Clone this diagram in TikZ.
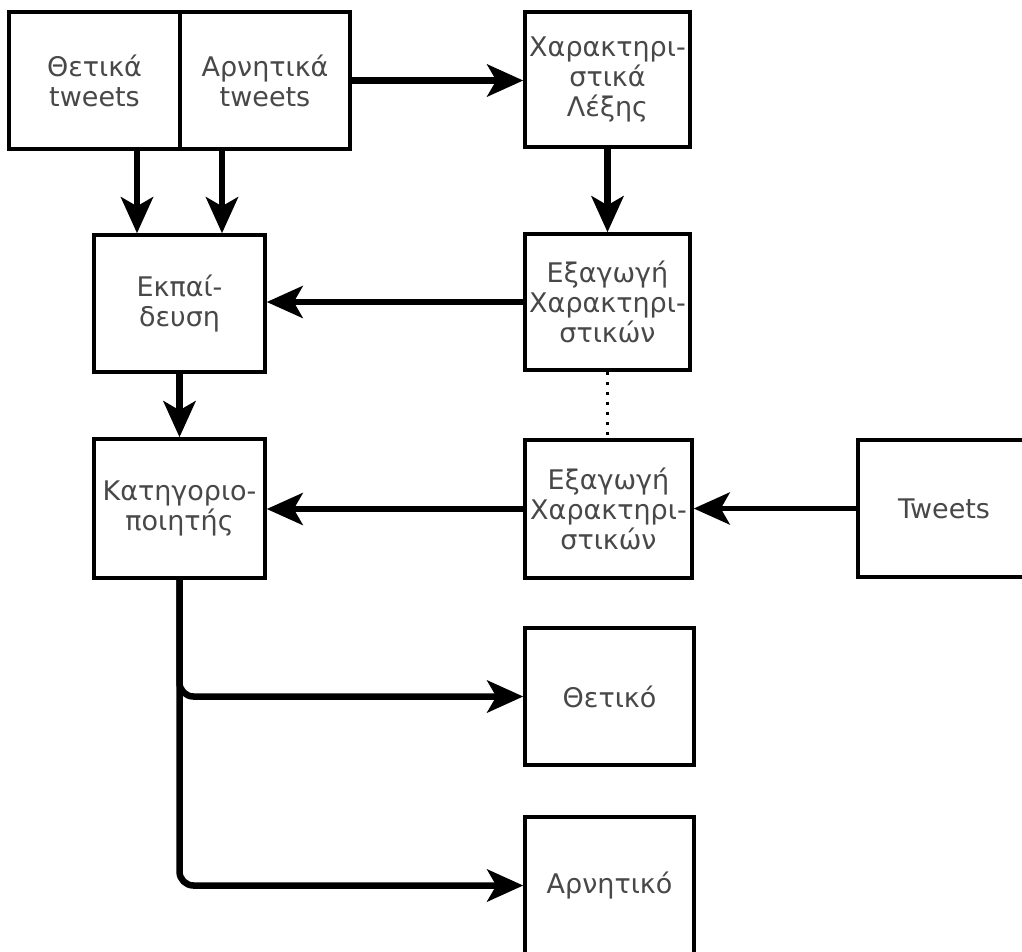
\documentclass[tikz,border=0pt]{standalone}
\usepackage{fontspec}
\setmainfont{DejaVu Sans}
\usetikzlibrary{arrows.meta}
\definecolor{txt}{HTML}{484848}
\tikzset{
  box/.style={draw=black, line width=3.5pt, fill=white, align=center, text=txt,
    font=\fontsize{27}{30}\selectfont, inner sep=0pt},
  arr/.style={line width=6.5pt, -{Stealth[length=36pt, width=32pt, inset=9pt]}},
  thinarr/.style={line width=5.5pt, -{Stealth[length=36pt, width=32pt, inset=9pt]}},
}
\begin{document}
\begin{tikzpicture}[x=1pt, y=-1pt]
\useasboundingbox (0,0) rectangle (1022,951);
\clip (0,0) rectangle (1022,951);
\fill[white] (0,0) rectangle (1022,951);
% nodes
\node[box, minimum width=171pt, minimum height=137pt] (thet) at (94.5,80.5) {Θετικά\\tweets};
\node[box, minimum width=170pt, minimum height=137pt] (arn) at (265,80.5) {Αρνητικά\\tweets};
\node[box, minimum width=165pt, minimum height=135pt] (xar) at (607.5,79.5) {Χαρακτηρι-\\στικά\\Λέξης};
\node[box, minimum width=171pt, minimum height=137pt] (ekp) at (179.5,303.5) {Εκπαί-\\δευση};
\node[box, minimum width=165pt, minimum height=136pt] (exa1) at (607.5,302) {Εξαγωγή\\Χαρακτηρι-\\στικών};
\node[box, minimum width=171pt, minimum height=139pt] (kat) at (179.5,508.5) {Κατηγοριο-\\ποιητής};
\node[box, minimum width=167pt, minimum height=138pt] (exa2) at (608.5,509) {Εξαγωγή\\Χαρακτηρι-\\στικών};
\node[box, minimum width=172pt, minimum height=137pt] (tw) at (944,508.5) {Tweets};
\node[box, minimum width=169pt, minimum height=137pt] (pos) at (609.5,696.5) {Θετικό};
\node[box, minimum width=169pt, minimum height=137pt] (neg) at (609.5,885.5) {Αρνητικό};
% connectors
\draw[arr] ([xshift=42.5pt]thet.south) -- ([xshift=-42.5pt]ekp.north);
\draw[arr] ([xshift=-43pt]arn.south) -- ([xshift=42.5pt]ekp.north);
\draw[arr] (arn.east) -- (arn.east -| xar.west);
\draw[arr] (xar.south) -- (exa1.north);
\draw[thinarr] (exa1.west) -- (exa1.west -| ekp.east);
\draw[line width=3pt, dash pattern=on 3pt off 7pt] (exa1.south) -- (exa1.south |- exa2.north);
\draw[arr] (ekp.south) -- (kat.north);
\draw[thinarr] (exa2.west) -- (exa2.west -| kat.east);
\draw[thinarr] (tw.west) -- (tw.west -| exa2.east);
\draw[arr, rounded corners=14pt] (kat.south) |- (pos.west);
\draw[arr, rounded corners=14pt] (kat.south) |- (neg.west);
\end{tikzpicture}
\end{document}
